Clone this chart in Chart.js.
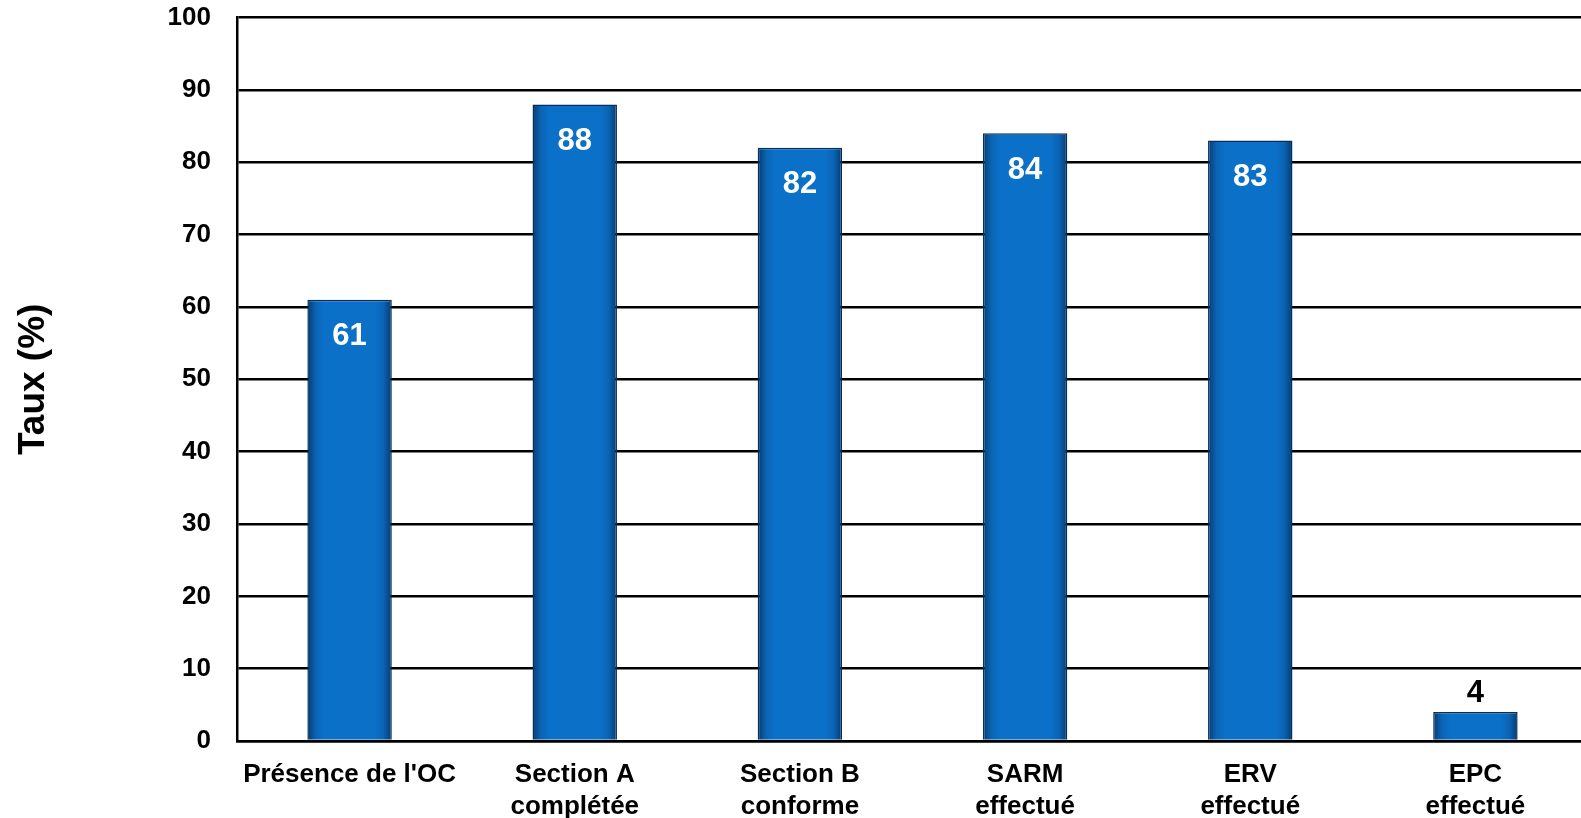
<!DOCTYPE html>
<html>
<head>
<meta charset="utf-8">
<script src="https://cdn.jsdelivr.net/npm/chart.js@4.4.0/dist/chart.umd.min.js"></script>
<style>
    body { margin: 0; background: #fff; overflow: hidden; }
    #wrap { width: 1588px; height: 859px; margin-top: -24px; }
</style>
</head>
<body>
<div id="wrap"><canvas id="myChart"></canvas></div>
<script>
// chart data
const categories = [
    "Présence de l'OC",
    ["Section A", "complétée"],
    ["Section B", "conforme"],
    ["SARM", "effectué"],
    ["ERV", "effectué"],
    ["EPC", "effectué"]
];
const tauxValues = [61, 88, 82, 84, 83, 4];
const yTicks = [0, 10, 20, 30, 40, 50, 60, 70, 80, 90, 100];

const FONT = "'Liberation Sans', Arial, sans-serif";
const BAR_PCT = 0.375;

// value labels: white inside tall bars, black above short ones
const valueLabels = {
    id: "valueLabels",
    afterDatasetsDraw(chart) {
        const ctx = chart.ctx;
        const meta = chart.getDatasetMeta(0);
        ctx.save();
        ctx.font = "bold 31px " + FONT;
        ctx.textAlign = "center";
        ctx.textBaseline = "middle";
        meta.data.forEach((bar, i) => {
            const v = tauxValues[i];
            if (v < 10) {
                ctx.fillStyle = "#000";
                ctx.fillText(v, bar.x, bar.y - 19);
            } else {
                ctx.fillStyle = "#fff";
                ctx.fillText(v, bar.x, bar.y + 37);
            }
        });
        ctx.restore();
    }
};

// bevel-like horizontal gradient for each bar
function barFill(c) {
    const chart = c.chart;
    const xs = chart.scales.x;
    if (!chart.chartArea || !xs || c.dataIndex === undefined) return "#0A70C8";
    const cx = xs.getPixelForValue(c.dataIndex);
    const half = (xs.width / categories.length) * BAR_PCT / 2;
    const g = chart.ctx.createLinearGradient(cx - half, 0, cx + half, 0);
    g.addColorStop(0, "#083A6E");
    g.addColorStop(0.1, "#0A64B4");
    g.addColorStop(0.2, "#0A70C8");
    g.addColorStop(0.8, "#0A70C8");
    g.addColorStop(0.9, "#0A64B4");
    g.addColorStop(1, "#083A6E");
    return g;
}

const ctx = document.getElementById("myChart").getContext("2d");
const myChart = new Chart(ctx, {
    type: "bar",
    data: {
        labels: categories,
        datasets: [{
            label: "Taux",
            data: tauxValues,
            backgroundColor: barFill,
            borderColor: "#06305C",
            borderWidth: 1.5,
            borderSkipped: "bottom",
            barPercentage: BAR_PCT,
            categoryPercentage: 1
        }]
    },
    options: {
        responsive: true,
        maintainAspectRatio: false,
        animation: false,
        layout: { padding: { top: -16, bottom: -6, right: 0, left: 12 } },
        plugins: {
            legend: { display: false },
            tooltip: { enabled: false }
        },
        scales: {
            x: {
                grid: { display: false, drawTicks: false },
                border: { color: "#000", width: 2.5 },
                ticks: {
                    color: "#000",
                    font: { family: FONT, size: 26, weight: "bold", lineHeight: 1.23 },
                    padding: 18,
                    maxRotation: 0,
                    autoSkip: false
                }
            },
            y: {
                min: 0,
                max: 100,
                afterBuildTicks: (scale) => {
                    scale.ticks = yTicks.map(v => ({ value: v }));
                },
                grid: { color: "#000", lineWidth: 2.5, drawTicks: false },
                border: { color: "#000", width: 2.5 },
                ticks: {
                    color: "#000",
                    font: { family: FONT, size: 26, weight: "bold" },
                    padding: 26
                },
                title: {
                    display: true,
                    text: "Taux (%)",
                    color: "#000",
                    font: { family: FONT, size: 37, weight: "bold" },
                    padding: { top: 0, bottom: 60 }
                },
                afterFit: (scale) => { scale.width = 225; }
            }
        }
    },
    plugins: [valueLabels]
});
</script>
</body>
</html>
